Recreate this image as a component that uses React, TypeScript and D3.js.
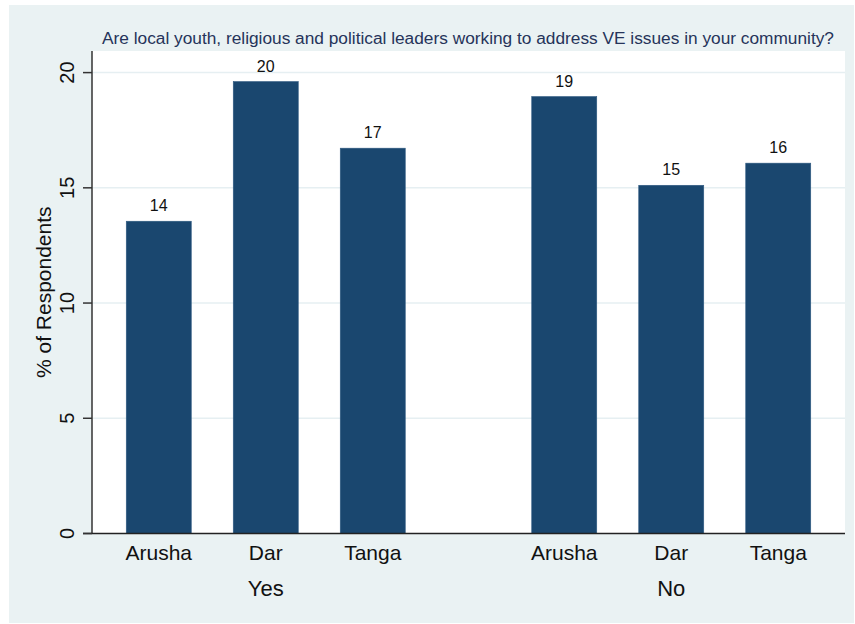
import React from "react";
import * as d3 from "d3";

const groups = ["Yes", "No"];
const cities = ["Arusha", "Dar", "Tanga"];
const yesValues = [13.55, 19.61, 16.72];
const noValues = [18.96, 15.11, 16.07];
const yTicks = [0, 5, 10, 15, 20];
const title =
  "Are local youth, religious and political leaders working to address VE issues in your community?";
const yLabel = "% of Respondents";

const W = 855;
const H = 624;
const plotL = 92;
const plotR = 845;
const plotT = 51;
const plotB = 533.5;
const FONT = "'Liberation Sans', Arial, Helvetica, sans-serif";

export default function App() {
  const valuesByGroup: Record<string, number[]> = { Yes: yesValues, No: noValues };
  const y = d3.scaleLinear().domain([0, 20]).range([plotB, 72.6]);
  const gx = d3.scalePoint<string>().domain(groups).range([plotL, plotR]).padding(0.4285);
  const inner = d3
    .scaleBand<string>()
    .domain(cities)
    .range([-139.5, 139.5])
    .paddingInner(0.3925)
    .paddingOuter(0);

  const bars = groups.flatMap((g) =>
    cities.map((c, i) => ({ g, c, v: valuesByGroup[g][i] }))
  );

  return (
    <svg
      width={W}
      height={H}
      style={{ position: "absolute", left: 0, top: 0 }}
      fontFamily={FONT}
    >
      <rect x={0} y={0} width={W} height={H} fill="#ffffff" />
      <rect x={9} y={5} width={845} height={618} fill="#eaf2f3" />
      <rect x={plotL} y={plotT} width={plotR - plotL} height={plotB - plotT} fill="#ffffff" />
      {yTicks
        .filter((t) => t > 0)
        .map((t) => (
          <line
            key={"g" + t}
            x1={plotL}
            x2={plotR}
            y1={y(t)}
            y2={y(t)}
            stroke="#e6eff2"
            strokeWidth={1.5}
          />
        ))}
      {bars.map((b) => {
        const x = (gx(b.g) as number) + (inner(b.c) as number);
        return (
          <g key={b.g + b.c}>
            <rect
              x={x}
              y={y(b.v)}
              width={inner.bandwidth()}
              height={plotB - y(b.v)}
              fill="#1a476f"
              stroke="#2e5980"
              strokeWidth={0.6}
            />
            <text
              x={x + inner.bandwidth() / 2}
              y={y(b.v) - 10}
              textAnchor="middle"
              fontSize={16}
              fill="#111"
            >
              {Math.round(b.v)}
            </text>
            <text
              x={x + inner.bandwidth() / 2}
              y={560}
              textAnchor="middle"
              fontSize={21}
              fill="#111"
            >
              {b.c}
            </text>
          </g>
        );
      })}
      {groups.map((g) => (
        <text key={g} x={gx(g)} y={595.5} textAnchor="middle" fontSize={22} fill="#111">
          {g}
        </text>
      ))}
      <line x1={plotL} x2={plotL} y1={plotT} y2={plotB} stroke="#333" strokeWidth={1.5} />
      <line x1={plotL - 9} x2={plotR} y1={plotB} y2={plotB} stroke="#222" strokeWidth={1.5} />
      {yTicks.map((t) => (
        <g key={"t" + t}>
          <line x1={plotL - 9} x2={plotL} y1={y(t)} y2={y(t)} stroke="#333" strokeWidth={1.5} />
          <text
            transform={`translate(73.5,${y(t)}) rotate(-90)`}
            textAnchor="middle"
            fontSize={20}
            fill="#111"
          >
            {t}
          </text>
        </g>
      ))}
      <text
        transform={`translate(50.5,${(plotT + plotB) / 2}) rotate(-90)`}
        textAnchor="middle"
        fontSize={21}
        fill="#111"
      >
        {yLabel}
      </text>
      <text
        x={468}
        y={44.3}
        textAnchor="middle"
        fontSize={17.3}
        fill="#26345a"
      >
        {title}
      </text>
    </svg>
  );
}
